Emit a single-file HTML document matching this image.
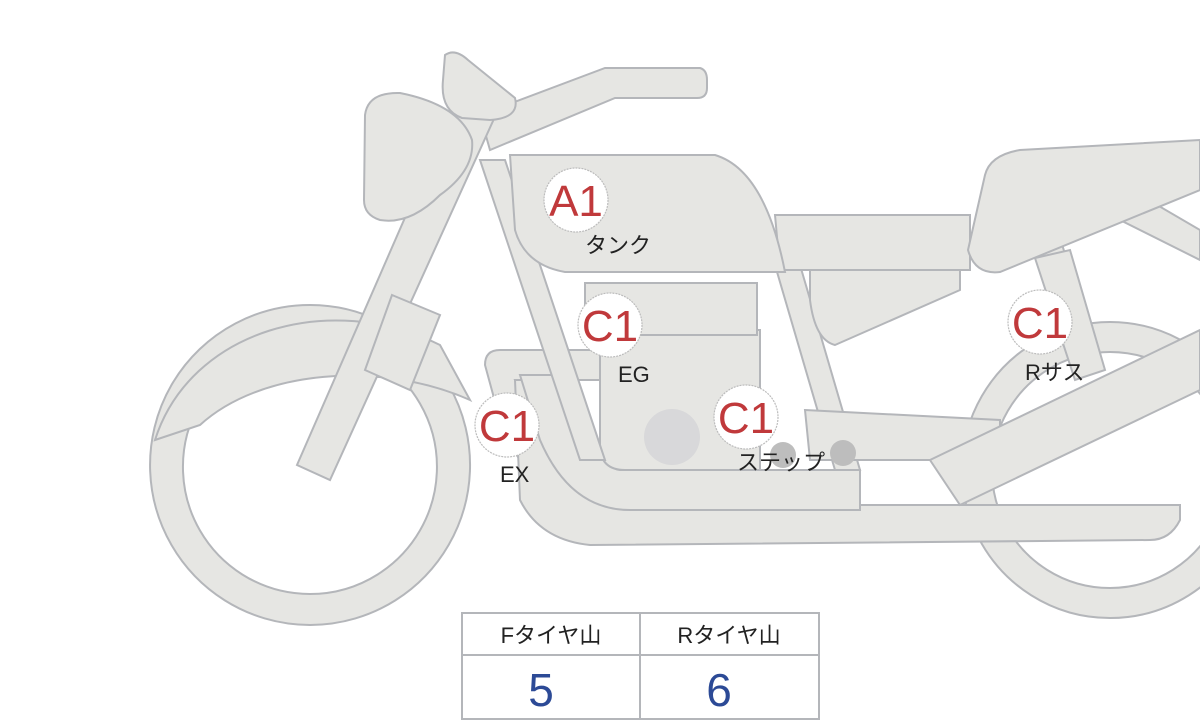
<!DOCTYPE html>
<html><head><meta charset="utf-8"><style>
html,body{margin:0;padding:0;background:#fff;width:1200px;height:720px;overflow:hidden}
svg{display:block}
.s{fill:#e6e6e3;stroke:#b4b6ba;stroke-width:2}
.b{fill:#fff;stroke:#bcbcbc;stroke-width:1.2;stroke-dasharray:2 1}
.r{font-family:"Liberation Sans",sans-serif;font-size:44px;fill:#c0393b}
.k{font-family:"Liberation Sans","Noto Sans CJK JP",sans-serif;font-size:22px;fill:#222}
</style></head><body>
<svg width="1200" height="720" viewBox="0 0 1200 720">
<path class="s" fill-rule="evenodd" d="M310,305 a160,160 0 1,0 0.1,0 Z M310,340 a127,127 0 1,1 -0.1,0 Z"/>
<path class="s" fill-rule="evenodd" d="M1110,322 a148,148 0 1,0 0.1,0 Z M1110,352 a118,118 0 1,1 -0.1,0 Z"/>
<path class="s" d="M155,440 C190,330 330,290 440,345 L470,400 C380,360 260,370 200,425 Z"/>
<path class="s" d="M1030,240 L1060,238 L1095,350 L1070,360 Z"/>
<path class="s" d="M1080,160 L1200,230 L1200,260 L1080,200 Z"/>
<path class="s" d="M485,365 Q485,350 500,350 L640,350 L640,380 L515,380 Q548,470 600,475 L860,475 L860,505 L590,505 Q530,500 500,420 Z"/>
<path class="s" d="M515,380 L545,380 Q590,500 620,505 L1180,505 L1180,520 Q1170,540 1150,540 L590,545 Q540,540 520,500 Z"/>
<path class="s" d="M520,375 L560,375 Q600,470 620,470 L860,470 L860,510 L630,510 Q570,510 540,440 Z"/>
<path class="s" d="M600,330 L760,330 L760,470 L625,470 Q600,470 600,445 Z"/>
<circle cx="672" cy="437" r="28" fill="#d8d8da"/>
<rect class="s" x="585" y="283" width="172" height="52"/>
<path class="s" d="M480,160 L505,160 L605,460 L580,460 Z"/>
<path class="s" d="M775,265 L800,265 L860,470 L835,470 Z"/>
<path class="s" d="M805,410 L1000,420 L1000,460 L810,460 Z"/>
<path class="s" d="M810,270 L960,270 L960,290 L835,345 Q815,340 810,300 Z"/>
<path class="s" d="M775,215 L970,215 L970,270 L780,270 Z"/>
<path class="s" d="M985,175 Q990,155 1020,150 L1200,140 L1200,190 L1000,272 Q975,275 968,250 Z"/>
<path class="s" d="M1035,258 L1070,250 L1105,370 L1075,380 Z"/>
<path class="s" d="M930,460 L1200,330 L1200,390 L960,505 Z"/>
<path class="s" d="M510,155 L715,155 Q765,170 785,272 L565,272 Q525,265 515,230 Z"/>
<path class="s" d="M480,115 L605,68 L700,68 Q707,70 707,80 L707,88 Q707,98 697,98 L615,98 L490,150 Z"/>
<path class="s" d="M452,110 L498,110 L330,480 L297,465 Z"/>
<path class="s" d="M392,295 L440,315 L410,390 L365,370 Z"/>
<path class="s" d="M445,55 Q455,48 468,60 L515,98 Q520,118 490,120 L462,118 Q440,110 443,80 Z"/>
<path class="s" d="M365,115 Q368,92 400,93 Q460,105 472,140 Q475,170 440,195 Q410,225 380,220 Q364,215 364,200 Z"/>
<circle cx="783" cy="455" r="13" fill="#bdbdbd"/>
<circle cx="843" cy="453" r="13" fill="#bdbdbd"/>
<circle class="b" cx="576" cy="200" r="32"/><text class="r" x="576" y="216" text-anchor="middle">A1</text>
<text class="k" x="585" y="253">タンク</text>
<circle class="b" cx="610" cy="325" r="32"/><text class="r" x="610" y="341" text-anchor="middle">C1</text>
<text class="k" x="618" y="382" font-size="21">EG</text>
<circle class="b" cx="746" cy="417" r="32"/><text class="r" x="746" y="433" text-anchor="middle">C1</text>
<text class="k" x="737" y="470">ステップ</text>
<circle class="b" cx="507" cy="425" r="32"/><text class="r" x="507" y="441" text-anchor="middle">C1</text>
<text class="k" x="500" y="482" font-size="21">EX</text>
<circle class="b" cx="1040" cy="322" r="32"/><text class="r" x="1040" y="338" text-anchor="middle">C1</text>
<text class="k" x="1025" y="380">Rサス</text>
<rect x="462" y="613" width="357" height="106" fill="#fff" stroke="#b4b6ba" stroke-width="2"/>
<line x1="462" y1="655" x2="819" y2="655" stroke="#b4b6ba" stroke-width="2"/>
<line x1="640" y1="613" x2="640" y2="719" stroke="#b4b6ba" stroke-width="2"/>
<text class="k" x="551" y="643" text-anchor="middle" font-size="24">Fタイヤ山</text>
<text class="k" x="729" y="643" text-anchor="middle" font-size="24">Rタイヤ山</text>
<text x="541" y="706" text-anchor="middle" font-family="Liberation Sans,sans-serif" font-size="46" fill="#2c4a96">5</text>
<text x="719" y="706" text-anchor="middle" font-family="Liberation Sans,sans-serif" font-size="46" fill="#2c4a96">6</text>
</svg>
</body></html>
